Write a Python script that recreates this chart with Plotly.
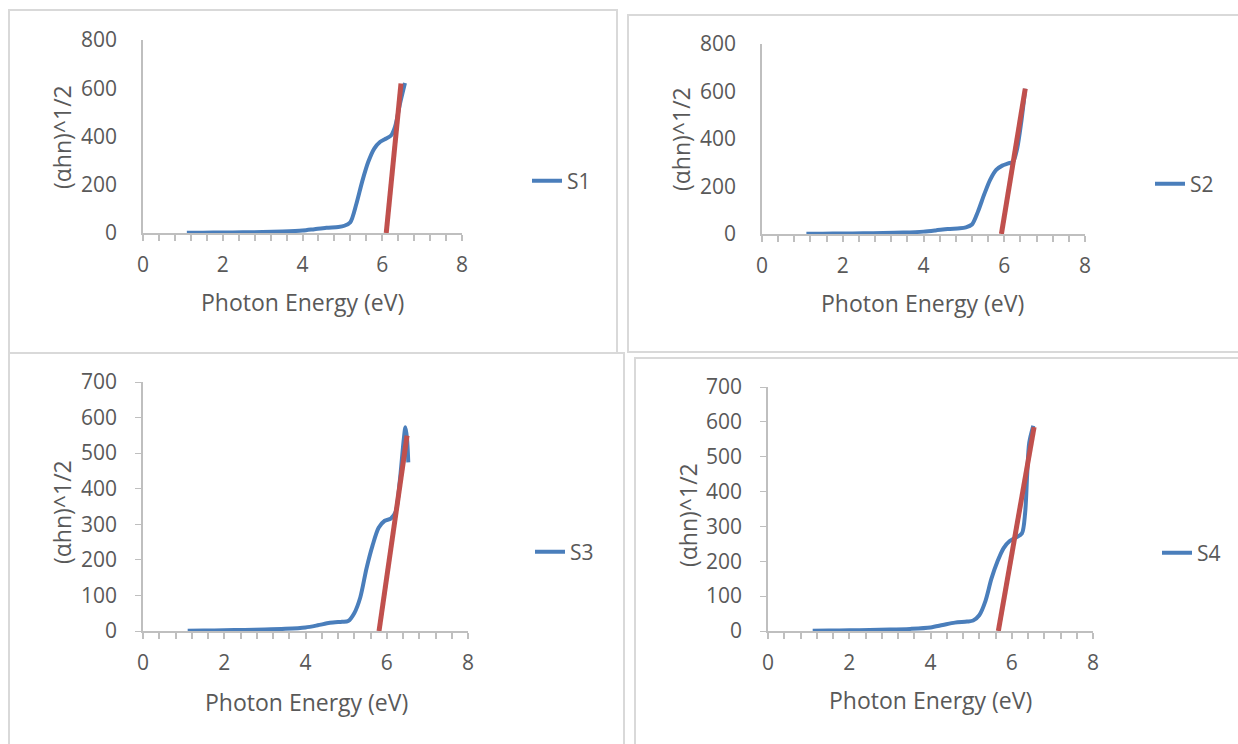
import plotly.graph_objects as go

W, H = 1238, 744

# ---------------- data ----------------
energy_low = [1.1, 1.5, 2.0, 2.5, 3.0, 3.5, 4.0, 4.3, 4.6, 4.9, 5.05]

energy_s1 = energy_low + [5.2, 5.35, 5.5, 5.65, 5.8, 5.95, 6.1, 6.22, 6.32, 6.45, 6.57]
alpha_s1 = [1, 1.5, 2, 3, 4, 6, 10, 16, 22, 25, 30,
            45, 120, 215, 295, 350, 378, 392, 404, 440, 540, 622]
fit_x_s1 = [6.1, 6.47]
fit_y_s1 = [0, 620]

energy_s2 = energy_low + [5.2, 5.35, 5.5, 5.65, 5.8, 5.95, 6.1, 6.22, 6.32, 6.42, 6.52]
alpha_s2 = [1, 1.5, 2, 3, 4, 6, 10, 15, 21, 24, 28,
            40, 95, 165, 228, 270, 288, 297, 305, 360, 470, 612]
fit_x_s2 = [5.93, 6.52]
fit_y_s2 = [0, 612]

energy_s3 = energy_low + [5.2, 5.35, 5.5, 5.65, 5.8, 5.95, 6.1, 6.22, 6.32, 6.42, 6.46, 6.5, 6.53]
alpha_s3 = [1, 1.5, 2, 3, 4, 6, 10, 16, 23, 26, 28,
            50, 95, 175, 240, 290, 310, 316, 335, 420, 540, 573, 540, 474]
fit_x_s3 = [5.81, 6.5]
fit_y_s3 = [0, 549]

energy_s4 = energy_low + [5.2, 5.35, 5.5, 5.65, 5.8, 5.95, 6.1, 6.25, 6.33, 6.38, 6.43, 6.53]
alpha_s4 = [1, 1.5, 2, 3, 4, 6, 10, 17, 24, 27, 30,
            45, 85, 150, 200, 238, 258, 268, 280, 340, 450, 540, 589]
fit_x_s4 = [5.67, 6.55]
fit_y_s4 = [0, 585]

series_names = ["S1", "S2", "S3", "S4"]
y_max = [800, 800, 700, 700]
y_dtick = [200, 200, 100, 100]
x_ticks = [0, 2, 4, 6, 8]
x_title = "Photon Energy (eV)"
y_title = "(αhn)^1/2"

# ---------------- styling ----------------
BLUE = "#4A7EBB"
RED = "#C0504D"
TXT = "#595959"
AXC = "#BFBFBF"
BORDER = "#D9D9D9"
FONT = "Open Sans"
TICK_SIZE = 21
TITLE_SIZE = 23
LEG_SIZE = 21

def px(x):
    return x / W

def py(y):
    return 1 - y / H

# plot area pixel boxes: (x0, x1, ytop, ybottom)
boxes = [
    (143, 462, 40, 233),
    (762, 1085, 44, 234),
    (143, 468, 382, 631),
    (768, 1093, 387, 631),
]
ytitle_pos = [(62, 137), (681, 139), (62, 512), (688, 515)]
xtitle_pos = [(302, 302), (922, 303), (306, 702), (930, 700)]
legend_pos = [(527, 181), (1150, 184), (530, 552), (1157, 553)]
panels = [(9, 10, 617, 353), (628, 15, 1245, 352), (9, 353, 624, 750), (635, 358, 1245, 750)]

energies = [energy_s1, energy_s2, energy_s3, energy_s4]
alphas = [alpha_s1, alpha_s2, alpha_s3, alpha_s4]
fits_x = [fit_x_s1, fit_x_s2, fit_x_s3, fit_x_s4]
fits_y = [fit_y_s1, fit_y_s2, fit_y_s3, fit_y_s4]

fig = go.Figure()
layout = dict(
    template="none",
    width=W, height=H,
    margin=dict(l=0, r=0, t=0, b=0, pad=0, autoexpand=False),
    paper_bgcolor="white", plot_bgcolor="white",
    font=dict(family=FONT, color=TXT, size=TICK_SIZE),
    showlegend=True,
    shapes=[], annotations=[],
)

for i in range(4):
    n = "" if i == 0 else str(i + 1)
    xa, ya = "x" + n, "y" + n
    leg = "legend" + n
    fig.add_trace(go.Scatter(
        x=energies[i], y=alphas[i], mode="lines", name=series_names[i],
        line=dict(color=BLUE, width=4, shape="spline", smoothing=0.8),
        xaxis=xa, yaxis=ya, legend=leg, showlegend=True, hoverinfo="x+y",
    ))
    fig.add_trace(go.Scatter(
        x=fits_x[i], y=fits_y[i], mode="lines", name="fit " + series_names[i],
        line=dict(color=RED, width=5),
        xaxis=xa, yaxis=ya, showlegend=False, hoverinfo="skip",
    ))
    x0, x1, yt, yb = boxes[i]
    layout["xaxis" + n] = dict(
        domain=[px(x0), px(x1)], anchor=ya, range=[0, 8], automargin=False,
        tickvals=x_ticks, showgrid=False, zeroline=False,
        showline=True, linecolor=AXC, linewidth=1.5,
        ticks="outside", ticklen=6, tickcolor=AXC, tickwidth=1.5,
        minor=dict(dtick=0.4, tick0=0, ticks="outside", ticklen=6,
                   tickcolor=AXC, tickwidth=1.5, showgrid=False),
        tickfont=dict(size=TICK_SIZE, color=TXT), ticklabelstandoff=6,
        fixedrange=True,
    )
    layout["yaxis" + n] = dict(
        domain=[py(yb), py(yt)], anchor=xa, range=[0, y_max[i]], automargin=False,
        dtick=y_dtick[i], showgrid=False, zeroline=False,
        showline=True, linecolor=AXC, linewidth=1.5,
        ticks="outside" if i >= 2 else "", ticklen=6, tickcolor=AXC,
        tickfont=dict(size=TICK_SIZE, color=TXT), ticklabelstandoff=14 if i >= 2 else 20,
        fixedrange=True,
    )
    lx, ly = legend_pos[i]
    layout[leg] = dict(
        x=px(lx), y=py(ly), xanchor="left", yanchor="middle",
        bgcolor="rgba(0,0,0,0)", font=dict(size=LEG_SIZE, color=TXT, family=FONT),
        itemwidth=30,
    )
    tx, ty = ytitle_pos[i]
    layout["annotations"].append(dict(
        text=y_title, x=px(tx), y=py(ty), xref="paper", yref="paper",
        showarrow=False, textangle=-90, font=dict(size=TITLE_SIZE, color=TXT, family=FONT),
        xanchor="center", yanchor="middle",
    ))
    tx, ty = xtitle_pos[i]
    layout["annotations"].append(dict(
        text=x_title, x=px(tx), y=py(ty), xref="paper", yref="paper",
        showarrow=False, font=dict(size=TITLE_SIZE, color=TXT, family=FONT),
        xanchor="center", yanchor="middle",
    ))
    bx0, by0, bx1, by1 = panels[i]
    layout["shapes"].append(dict(
        type="rect", xref="paper", yref="paper",
        x0=px(bx0), x1=px(bx1), y0=py(by1), y1=py(by0),
        line=dict(color=BORDER, width=2), fillcolor="rgba(0,0,0,0)", layer="below",
    ))

fig.update_layout(**layout)
post = (
    "document.documentElement.style.margin='0';"
    "document.body.style.margin='0';"
    "document.body.style.overflow='hidden';"
)
fig.write_html("out.html", config={"displayModeBar": False}, post_script=post)
